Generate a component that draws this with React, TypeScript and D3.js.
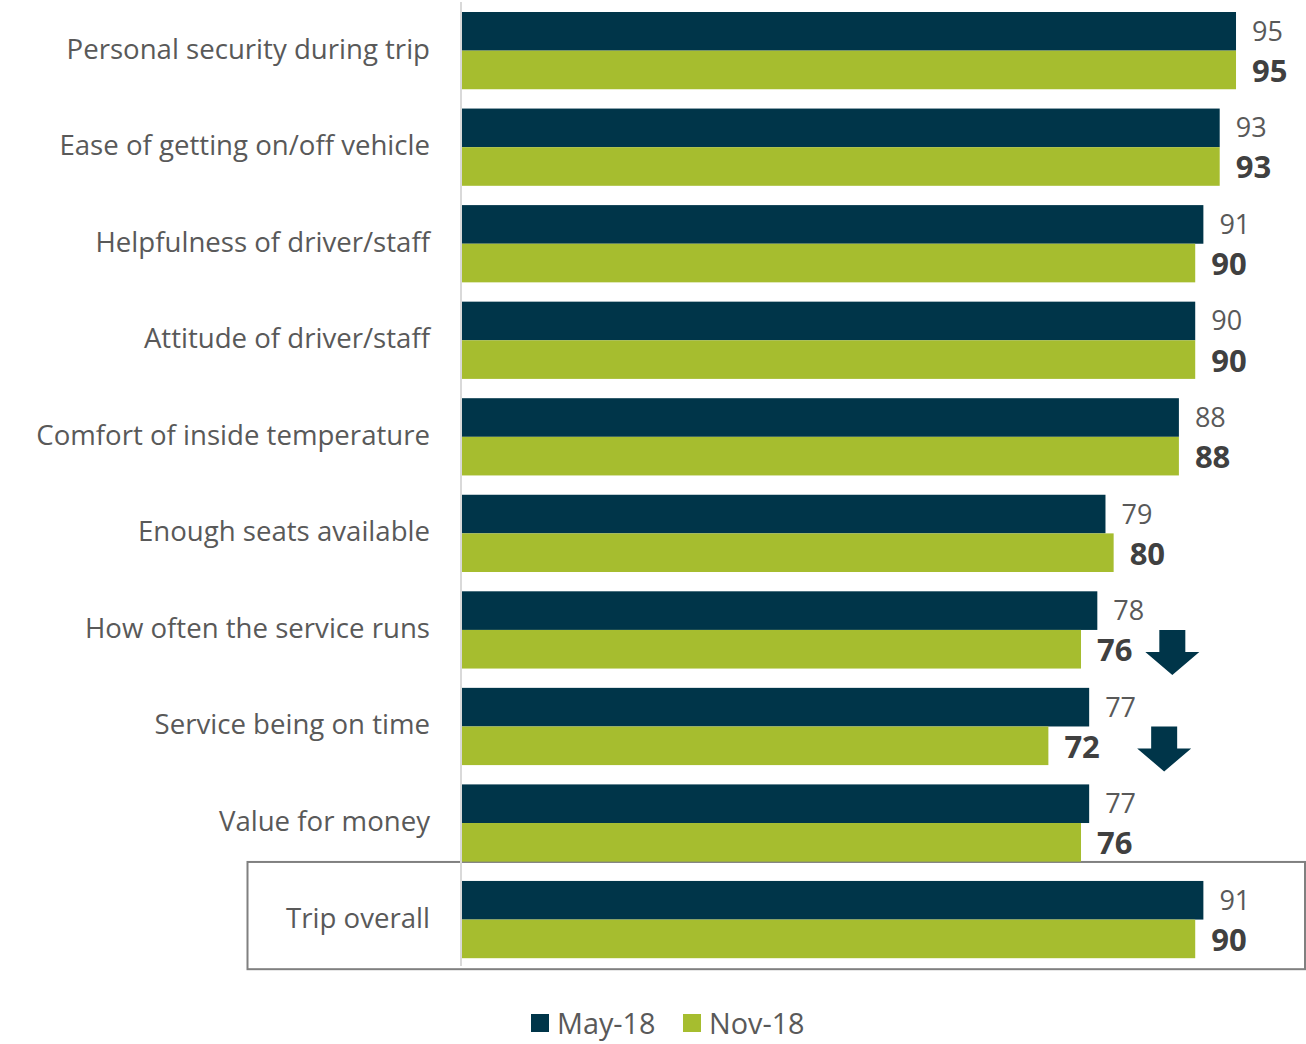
import React from "react";
import * as d3 from "d3";

const categories = [
  "Personal security during trip",
  "Ease of getting on/off vehicle",
  "Helpfulness of driver/staff",
  "Attitude of driver/staff",
  "Comfort of inside temperature",
  "Enough seats available",
  "How often the service runs",
  "Service being on time",
  "Value for money",
  "Trip overall",
];
const may18 = [95, 93, 91, 90, 88, 79, 78, 77, 77, 91];
const nov18 = [95, 93, 90, 90, 88, 80, 76, 72, 76, 90];
const decreased = [false, false, false, false, false, false, true, true, false, false];
const seriesNames = ["May-18", "Nov-18"];

const DARK = "#003549";
const GREEN = "#a6bd2f";
const TEXT = "#595959";
const FONT = "'Open Sans', sans-serif";

export default function App() {
  const W = 1306;
  const H = 1044;
  const x = d3.scaleLinear().domain([0, 100]).range([461, 461 + 815.8]);
  const y = d3
    .scaleBand<string>()
    .domain(categories)
    .range([2.35, 967.85])
    .paddingInner(0.2)
    .paddingOuter(0.1);
  const sub = d3.scaleBand<string>().domain(seriesNames).range([0, y.bandwidth()]);
  const bh = sub.bandwidth();
  const last = categories[categories.length - 1];
  const lastY = y(last)!;

  return (
    <svg
      width={W}
      height={H}
      style={{ position: "absolute", left: 0, top: 0, fontFamily: FONT }}
    >
      <rect
        x={247.5}
        y={lastY - 19}
        width={1305 - 247.5}
        height={y.bandwidth() + 30}
        fill="none"
        stroke="#808080"
        strokeWidth={2}
      />
      <line x1={461} x2={461} y1={2} y2={966} stroke="#d9d9d9" strokeWidth={2} />
      {categories.map((c, i) => {
        const y0 = y(c)!;
        const cy = y0 + y.bandwidth() / 2;
        const ym = y0 + sub("May-18")!;
        const yn = y0 + sub("Nov-18")!;
        return (
          <g key={c}>
            <rect x={x(0) + 1} y={ym} width={x(may18[i]) - x(0) - 1} height={bh} fill={DARK} />
            <rect x={x(0) + 1} y={yn} width={x(nov18[i]) - x(0) - 1} height={bh} fill={GREEN} />
            <text
              x={430}
              y={cy - 3}
              textAnchor="end"
              dominantBaseline="central"
              fontSize={27.6}
              fill={TEXT}
            >
              {c}
            </text>
            <text
              x={x(may18[i]) + 16}
              y={ym + bh / 2 - 1}
              dominantBaseline="central"
              fontSize={27}
              fill={TEXT}
            >
              {may18[i]}
            </text>
            <text
              x={x(nov18[i]) + 16}
              y={yn + bh / 2 + 0}
              dominantBaseline="central"
              fontSize={31}
              fontWeight="bold"
              fill="#404040"
            >
              {nov18[i]}
            </text>
            {decreased[i] && (() => {
              const ax = x(may18[i]) + 75;
              const top = yn;
              return (
                <path
                  d={`M${ax - 13},${top} L${ax + 13},${top} L${ax + 13},${top + 22} L${ax + 27},${top + 22} L${ax},${top + 45} L${ax - 27},${top + 22} L${ax - 13},${top + 22} Z`}
                  fill={DARK}
                />
              );
            })()}
          </g>
        );
      })}
      <rect x={531} y={1014} width={18} height={18} fill={DARK} />
      <text x={557} y={1022} dominantBaseline="central" fontSize={28.8} fill={TEXT}>
        {seriesNames[0]}
      </text>
      <rect x={683} y={1014} width={18} height={18} fill={GREEN} />
      <text x={709} y={1022} dominantBaseline="central" fontSize={28.8} fill={TEXT}>
        {seriesNames[1]}
      </text>
    </svg>
  );
}
